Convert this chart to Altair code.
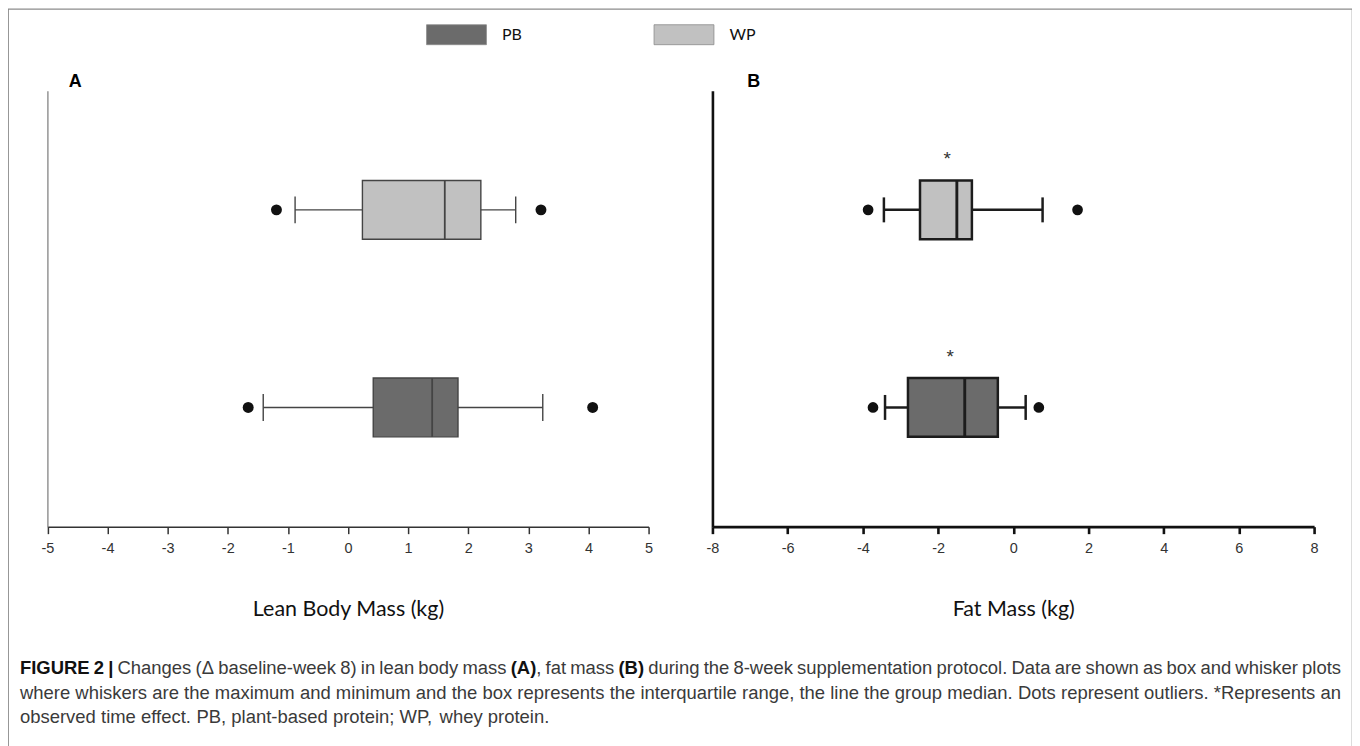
import altair as alt
import pandas as pd

# ---------------- data ----------------
groups = ["WP", "PB"]

# Panel A: change in lean body mass (kg)
lbm_min = [-0.88, -1.41]
lbm_q1 = [0.24, 0.42]
lbm_med = [1.61, 1.40]
lbm_q3 = [2.21, 1.83]
lbm_max = [2.79, 3.24]
lbm_out_groups = ["WP", "WP", "PB", "PB"]
lbm_out = [-1.19, 3.21, -1.66, 4.07]
lbm_ticks = [-5, -4, -3, -2, -1, 0, 1, 2, 3, 4, 5]

# Panel B: change in fat mass (kg)
fm_min = [-3.44, -3.41]
fm_q1 = [-2.48, -2.80]
fm_med = [-1.50, -1.29]
fm_q3 = [-1.10, -0.41]
fm_max = [0.78, 0.33]
fm_out_groups = ["WP", "WP", "PB", "PB"]
fm_out = [-3.86, 1.71, -3.73, 0.68]
fm_star = [-1.76, -1.68]
fm_ticks = [-8, -6, -4, -2, 0, 2, 4, 6, 8]

legend_groups = ["PB", "WP"]
legend_colors = ["#6b6b6b", "#c1c1c1"]

caption_lines = [
    "**FIGURE 2 |** Changes (\u0394 baseline-week 8) in lean body mass **(A)**, fat mass **(B)** during the 8-week supplementation protocol. Data are shown as box and whisker plots",
    "where whiskers are the maximum and minimum and the box represents the interquartile range, the line the group median. Dots represent outliers. *Represents an",
    "observed time effect. PB, plant-based protein; WP, whey protein.",
]

# ---------------- layout ----------------
W, H = 1347, 740
A_RANGE = [39.5, 642]
B_RANGE = [706, 1309]
Y_RANGE = [82, 519]
X_OFF = Y_RANGE[1] - H

boxA = pd.DataFrame({"group": groups, "lo": lbm_min, "q1": lbm_q1, "med": lbm_med, "q3": lbm_q3, "hi": lbm_max})
outA = pd.DataFrame({"group": lbm_out_groups, "v": lbm_out})
boxB = pd.DataFrame({"group": groups, "lo": fm_min, "q1": fm_q1, "med": fm_med, "q3": fm_q3, "hi": fm_max, "star": fm_star})
outB = pd.DataFrame({"group": fm_out_groups, "v": fm_out})

y_scale = alt.Scale(type="point", domain=groups, range=Y_RANGE, padding=0.6035)
color_scale = alt.Scale(domain=legend_groups, range=legend_colors)

legend = alt.Legend(
    orient="none", legendX=439, legendY=15, direction="horizontal", title=None,
    symbolType="M-3,-1L3,-1L3,1L-3,1Z", symbolSize=400, symbolStrokeColor="#8a8a8a",
    symbolStrokeWidth=0.8, symbolOpacity=1, labelFont="Lato", labelFontSize=16,
    labelColor="#111", labelOffset=35, columnPadding=130,
)


def make_panel(box, out, dom, rng, ticks, title, letter, letter_x, yoff,
               axis_color, axis_w, ydom_color, ydom_w, box_stroke, lw, cap, dot, star=False):
    xs = alt.Scale(domain=dom, range=rng, nice=False, zero=False)
    xaxis = alt.Axis(
        orient="bottom", offset=X_OFF, values=ticks, labelExpr="'' + datum.value",
        domainColor=axis_color, domainWidth=axis_w, tickColor=axis_color, tickWidth=axis_w,
        tickSize=7, labelFont="Liberation Sans", labelFontSize=14.5, labelColor="#333",
        labelPadding=8, labelFlush=False, grid=False, title=title, titleFont="Lato",
        titleFontSize=21.5, titleFontWeight="normal", titleColor="#111", titlePadding=44,
    )
    yaxis = alt.Axis(
        orient="left", offset=yoff, domainColor=ydom_color, domainWidth=ydom_w,
        ticks=False, labels=False, grid=False, title=letter, titleAngle=0,
        titleX=letter_x, titleY=78, titleAlign="center", titleBaseline="alphabetic",
        titleFont="Liberation Sans", titleFontSize=18, titleFontWeight="bold", titleColor="#000",
    )

    def X(f):
        return alt.X(f + ":Q", scale=xs, axis=xaxis)

    Y = alt.Y("group:N", scale=y_scale, axis=yaxis, sort=groups)
    base = alt.Chart(box)
    whisk = base.mark_rule(color=box_stroke, strokeWidth=lw).encode(x=X("lo"), x2="hi:Q", y=Y)
    bars = base.mark_bar(size=59, stroke=box_stroke, strokeWidth=lw, opacity=1).encode(
        x=X("q1"), x2="q3:Q", y=Y,
        color=alt.Color("group:N", scale=color_scale, legend=legend),
    )
    med = base.mark_tick(orient="vertical", size=59, thickness=lw + 0.4, color=box_stroke, opacity=1).encode(x=X("med"), y=Y)
    cap_lo = base.mark_tick(orient="vertical", size=cap, thickness=lw, color=box_stroke, opacity=1).encode(x=X("lo"), y=Y)
    cap_hi = base.mark_tick(orient="vertical", size=cap, thickness=lw, color=box_stroke, opacity=1).encode(x=X("hi"), y=Y)
    dots = alt.Chart(out).mark_circle(size=dot, color="#111", opacity=1).encode(x=X("v"), y=Y)
    layers = [whisk, bars, med, cap_lo, cap_hi, dots]
    if star:
        layers.append(base.mark_text(text="*", dy=-51, fontSize=19, font="Liberation Sans", color="#333").encode(x=X("star"), y=Y))
    return alt.layer(*layers)


panelA = make_panel(boxA, outA, [-5, 5], A_RANGE, lbm_ticks, "Lean Body Mass (kg)", "A", 27.5, -39.5,
                    "#333", 1.5, "#7a7a7a", 1.2, "#444", 1.4, 27, 120)
panelB = make_panel(boxB, outB, [-8, 8], B_RANGE, fm_ticks, "Fat Mass (kg)", "B", 41, -706,
                    "#111", 2.6, "#111", 2.6, "#1c1c1c", 2.5, 25, 115, star=True)

# ---------------- caption (text layout with Arial / Liberation Sans metrics) ----------------
REG = {" ": 278, "!": 278, "(": 333, ")": 333, "*": 389, ",": 278, "-": 333, ".": 278, ";": 278,
       ":": 278, "|": 260, "\u0394": 668}
for d in "0123456789":
    REG[d] = 556
REG.update(dict(zip("ABCDEFGHIJKLMNOPQRSTUVWXYZ",
                    [667, 667, 722, 722, 667, 611, 778, 722, 278, 500, 667, 556, 833, 722, 778, 667, 778, 722, 667, 611, 722, 667, 944, 667, 667, 611])))
REG.update(dict(zip("abcdefghijklmnopqrstuvwxyz",
                    [556, 556, 500, 556, 556, 278, 556, 556, 222, 222, 500, 222, 833, 556, 556, 556, 556, 333, 500, 278, 556, 500, 722, 500, 500, 500])))
BOLD = {" ": 278, "(": 333, ")": 333, "|": 280, "2": 556, "A": 722, "B": 722, "E": 667, "F": 611,
        "G": 778, "I": 278, "R": 722, "U": 722}

CAP_FS = 18.5
CAP_X0 = 12
CAP_X1 = 1336
CAP_Y = [667, 692, 716]


def tw(s, bold):
    t = BOLD if bold else REG
    return sum(t.get(c, REG.get(c, 556)) for c in s) * CAP_FS / 1000.0


def tokens(line):
    parts = line.split("**")
    toks, pend = [], False
    for i, part in enumerate(parts):
        bold = i % 2 == 1
        for j, w in enumerate(part.split(" ")):
            if j > 0:
                pend = True
            if w == "":
                continue
            toks.append((w, bold, pend))
            pend = False
    return toks


cap_df = pd.DataFrame({"k": [0]})
caption_layers = []
for li, line in enumerate(caption_lines):
    toks = tokens(line)
    sp = 278 * CAP_FS / 1000.0
    nsp = sum(1 for t in toks if t[2])
    natural = sum(tw(t[0], t[1]) for t in toks) + nsp * sp
    extra = (CAP_X1 - CAP_X0 - natural) / nsp if li < 2 and nsp else 0
    x = CAP_X0
    for w, bold, has_sp in toks:
        if has_sp:
            x += sp + extra
        caption_layers.append(
            alt.Chart(cap_df).mark_text(
                text=w, align="left", baseline="alphabetic", font="Liberation Sans",
                fontSize=CAP_FS, fontWeight="bold" if bold else "normal",
                color="#111" if bold else "#3a3a3a",
            ).encode(x=alt.value(x), y=alt.value(CAP_Y[li]))
        )
        x += tw(w, bold)

chart = (
    alt.layer(panelA, panelB, *caption_layers)
    .resolve_scale(x="independent", y="independent")
    .properties(width=W, height=H, padding=0, autosize="none", background="white")
    .configure_view(stroke="#8c8c8c", strokeWidth=1.2)
)

chart.save("out.html", embed_options={"renderer": "svg", "actions": False})
